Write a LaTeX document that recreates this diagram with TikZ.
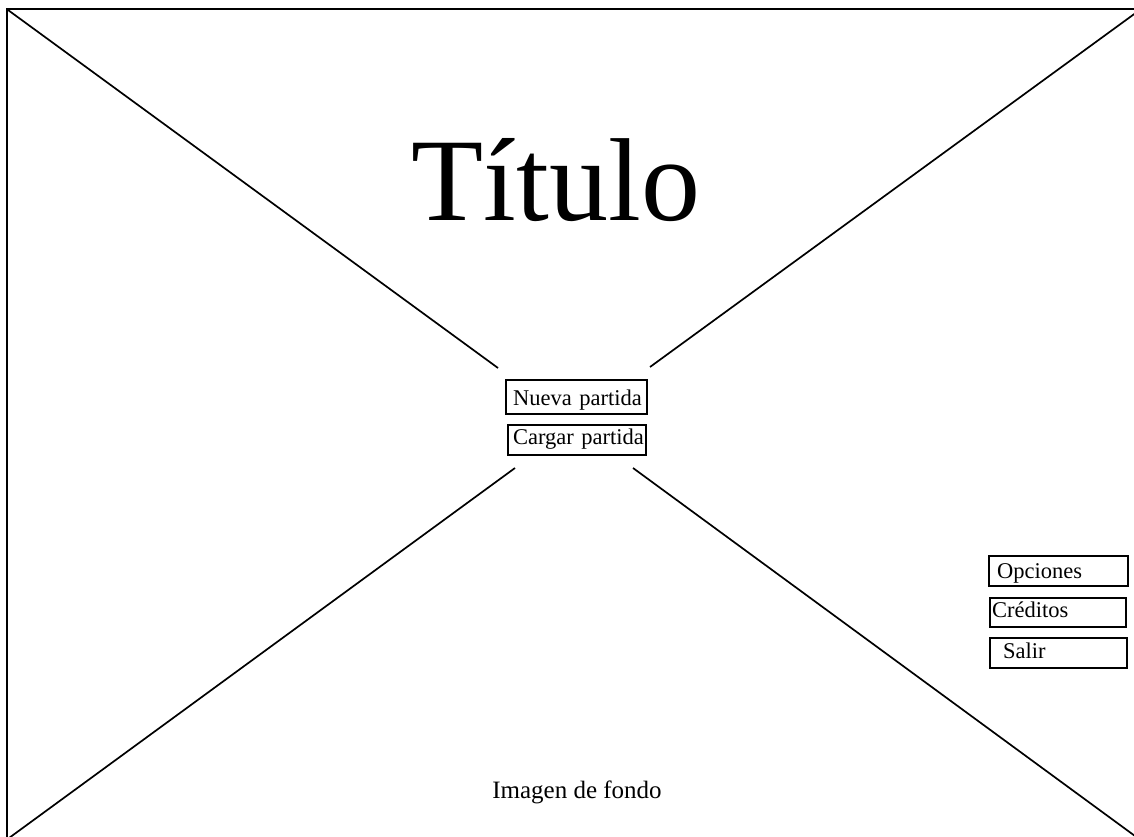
\documentclass[tikz,border=0pt]{standalone}
\usepackage{fontspec}
\setmainfont{Liberation Serif}
\begin{document}
\begin{tikzpicture}[x=1pt,y=-1pt,
  frame/.style={line width=2.8pt},
  cross/.style={line width=1.7pt},
  wbox/.style={draw, line width=2.2pt, inner xsep=0pt, inner ysep=0pt,
    anchor=north west, align=left, font=\fontsize{22.5}{27}\selectfont},
  indent/.style={execute at begin node={\hspace*{#1pt}\hbox\bgroup},
    execute at end node={\egroup}}
]
\useasboundingbox (0,0) rectangle (1134,837);
% frame (top and left edges)
\coordinate (fTR) at (1134,9);
\coordinate (fTL) at (7,9);
\coordinate (fBL) at (7,837);
\draw[frame] (fTR) -- (fTL) -- (fBL);
% background image placeholder cross
\coordinate (cTL) at (8,10);
\coordinate (cTLe) at (498,368);
\coordinate (cTR) at (1137,12);
\coordinate (cTRe) at (650,367);
\coordinate (cBL) at (9,838);
\coordinate (cBLe) at (515,468);
\coordinate (cBR) at (1135,836);
\coordinate (cBRe) at (633,468);
\draw[cross] (cTL) -- (cTLe);
\draw[cross] (cTR) -- (cTRe);
\draw[cross] (cBL) -- (cBLe);
\draw[cross] (cBR) -- (cBRe);
% title
\node[anchor=base, inner sep=0pt, font=\fontsize{118}{140}\selectfont] (titulo) at (556,220) {Título};
% main menu
\node[wbox, text width=141pt, text height=25pt, text depth=9pt, indent=7] (nueva) at (505,379) {Nueva partida};
\node[wbox, text width=138pt, text height=19pt, text depth=11pt, indent=5] (cargar) at (507,424) {Cargar partida};
% side menu
\node[wbox, text width=139pt, text height=22pt, text depth=8pt, indent=8] (opciones) at (988,555) {Opciones};
\node[wbox, text width=136pt, text height=19pt, text depth=10pt, indent=2] (creditos) at (989,597) {Créditos};
\node[wbox, text width=137pt, text height=20pt, text depth=10pt, indent=13] (salir) at (989,637) {Salir};
% caption
\node[anchor=base, inner sep=0pt, font=\fontsize{25}{30}\selectfont] (fondo) at (577,798) {Imagen de fondo};
\end{tikzpicture}
\end{document}
